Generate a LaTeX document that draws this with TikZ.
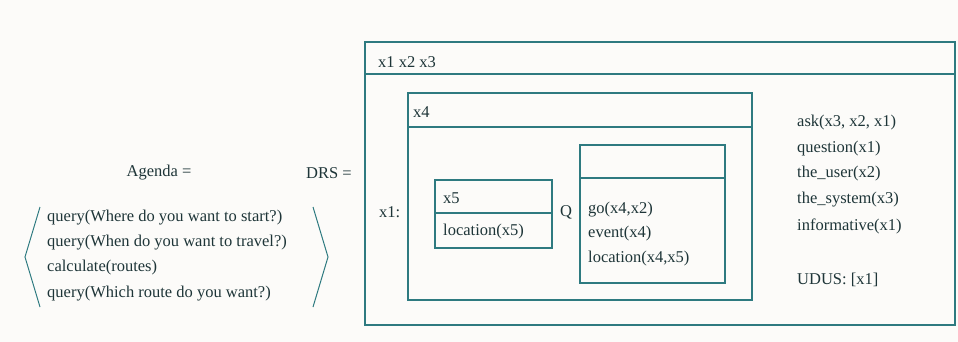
\documentclass[tikz,border=0pt]{standalone}
\usepackage{fontspec}
\setmainfont{Liberation Serif}
\definecolor{bg}{HTML}{FCFBF9}
\definecolor{ln}{HTML}{2E7A80}
\definecolor{tx}{HTML}{1E3538}
\tikzset{
  boxline/.style={draw=ln, line width=1.3pt},
  lbl/.style={anchor=west, inner sep=0pt, text=tx, font=\fontsize{16.5}{18}\selectfont},
  clbl/.style={anchor=center, inner sep=0pt, text=tx, font=\fontsize{16.5}{18}\selectfont},
}
\begin{document}
\begin{tikzpicture}[x=1pt,y=-1pt]
\fill[bg] (0,0) rectangle (958,342);
\useasboundingbox (0,0) rectangle (958,342);
% left side
\node[clbl] (agenda) at (159,173) {Agenda =};
\node[clbl] (drs) at (329,173) {DRS =};
\draw[ln, line width=1pt] (40,207) -- (25,257) -- (40,307);
\draw[ln, line width=1pt] (313,207) -- (328,257) -- (313,307);
\node[lbl] (a1) at (47,218) {query(Where do you want to start?)};
\node[lbl] (a2) at (47,243) {query(When do you want to travel?)};
\node[lbl] (a3) at (47,268) {calculate(routes)};
\node[lbl] (a4) at (47,294) {query(Which route do you want?)};
% outer DRS box
\draw[boxline] (365,42) rectangle (955,325);
\draw[boxline] (365,74) -- (955,74);
\node[lbl] (u1) at (378,62) {x1 x2 x3};
\node[lbl] (x1lab) at (379,212) {x1:};
% x4 box
\draw[boxline] (408,93) rectangle (752,300);
\draw[boxline] (408,127) -- (752,127);
\node[lbl] (u4) at (413,112) {x4};
% x5 box
\draw[boxline] (435,180) rectangle (552,248);
\draw[boxline] (435,213) -- (552,213);
\node[lbl] (u5) at (443,198) {x5};
\node[lbl] (c5) at (443,232) {location(x5)};
\node[clbl] (q) at (566,212) {Q};
% right inner box
\draw[boxline] (580,145) rectangle (725,283);
\draw[boxline] (580,178) -- (725,178);
\node[lbl] (g1) at (588,210) {go(x4,x2)};
\node[lbl] (g2) at (588,234) {event(x4)};
\node[lbl] (g3) at (588,259) {location(x4,x5)};
% conditions
\node[lbl] (r1) at (797,123) {ask(x3, x2, x1)};
\node[lbl] (r2) at (797,149) {question(x1)};
\node[lbl] (r3) at (797,174) {the\_user(x2)};
\node[lbl] (r4) at (797,200) {the\_system(x3)};
\node[lbl] (r5) at (797,226) {informative(x1)};
\node[lbl] (r6) at (797,280) {UDUS: [x1]};
\end{tikzpicture}
\end{document}
